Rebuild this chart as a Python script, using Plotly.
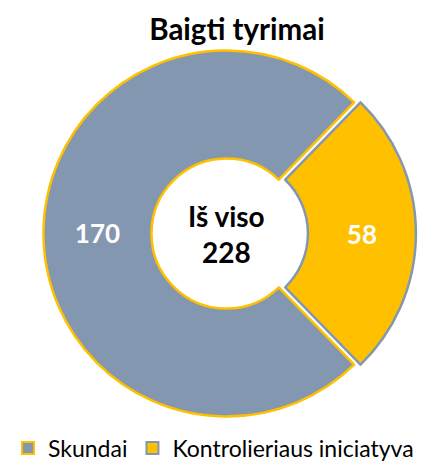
import plotly.graph_objects as go

labels = ["Skundai", "Kontrolieriaus iniciatyva"]
values = [170, 58]
colors = ["#8497B0", "#FFC000"]
border_colors = ["#FFC000", "#8497B0"]
pulls = [0, 0.035]
total = sum(values)

W, H = 440, 463
cx, cy, r = 218.5, 225.5, 183.0
half = r * (1 + max(pulls))

fig = go.Figure(go.Pie(
    labels=labels,
    values=values,
    sort=False,
    direction="clockwise",
    rotation=135.8,
    hole=0.41,
    pull=pulls,
    marker=dict(colors=colors, line=dict(color=border_colors, width=2.5)),
    textinfo="value",
    textposition="inside",
    insidetextorientation="horizontal",
    textfont=dict(family="Lato", size=26, color="white", weight="bold"),
    domain=dict(x=[(cx - half) / W, (cx + half) / W],
                y=[1 - (cy + half) / H, 1 - (cy - half) / H]),
    hoverinfo="skip",
))

fig.update_layout(
    width=W, height=H,
    margin=dict(l=0, r=0, t=0, b=0, autoexpand=False),
    paper_bgcolor="white",
    plot_bgcolor="white",
    title=dict(text="<b>Baigti tyrimai</b>", x=229 / W, xanchor="center",
               y=1 - 22 / H, yanchor="middle", yref="container",
               font=dict(family="Lato", size=29.5, color="black")),
    showlegend=True,
    legend=dict(orientation="h", x=0, xanchor="left", y=1 - 440 / H, yanchor="middle",
                font=dict(family="Lato", size=23, color="black"),
                itemsizing="constant", traceorder="normal",
                entrywidthmode="pixels", entrywidth=0, tracegroupgap=0),
    annotations=[
        dict(text="<b>Iš viso</b>", x=cx / W, y=1 - 208 / H, xref="paper", yref="paper",
             showarrow=False, font=dict(family="Lato", size=28, color="black")),
        dict(text=f"<b>{total}</b>", x=cx / W, y=1 - 244 / H, xref="paper", yref="paper",
             showarrow=False, font=dict(family="Lato", size=28, color="black")),
    ],
)

fig.write_html("out.html")
